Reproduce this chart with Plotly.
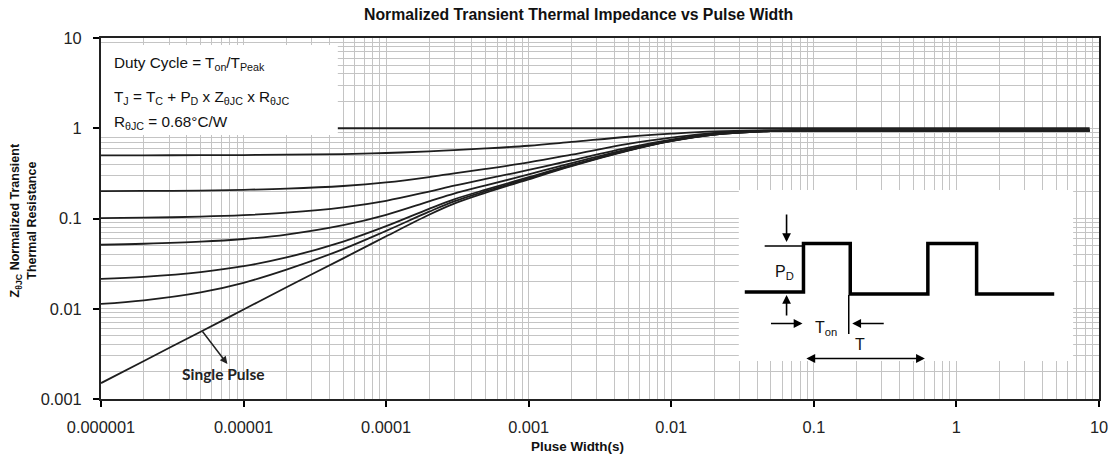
import plotly.graph_objects as go

# ---------------- data ----------------
pulse_width = [1e-6, 2e-6, 5e-6, 1e-5, 2e-5, 5e-5, 1e-4, 2e-4, 3e-4, 5e-4, 1e-3,
               2e-3, 5e-3, 1e-2, 2e-2, 5e-2, 1e-1, 1, 8.6]

z_single = [0.0015, 0.00264, 0.00557, 0.0098, 0.0173, 0.0362, 0.0635, 0.110, 0.146, 0.193,
            0.272, 0.38, 0.565, 0.72, 0.85, 0.93, 0.94, 0.94, 0.94]
z_d001 = [0.0113, 0.0124, 0.0152, 0.0194, 0.0271, 0.0458, 0.0729, 0.119, 0.155, 0.201,
          0.279, 0.386, 0.569, 0.723, 0.852, 0.931, 0.94, 0.94, 0.94]
z_d002 = [0.0214, 0.0226, 0.0255, 0.0296, 0.037, 0.0555, 0.0822, 0.128, 0.163, 0.209,
          0.287, 0.392, 0.574, 0.726, 0.853, 0.931, 0.941, 0.941, 0.941]
z_d005 = [0.0512, 0.0525, 0.0553, 0.0593, 0.0664, 0.0844, 0.110, 0.155, 0.189, 0.233,
          0.308, 0.411, 0.587, 0.734, 0.858, 0.934, 0.942, 0.942, 0.942]
z_d01 = [0.101, 0.102, 0.105, 0.109, 0.116, 0.133, 0.157, 0.199, 0.231, 0.274,
         0.345, 0.442, 0.609, 0.748, 0.865, 0.937, 0.944, 0.944, 0.944]
z_d02 = [0.201, 0.202, 0.204, 0.208, 0.214, 0.229, 0.251, 0.288, 0.317, 0.354,
         0.418, 0.51, 0.672, 0.786, 0.89, 0.944, 0.946, 0.946, 0.946]
z_d05 = [0.500, 0.501, 0.503, 0.505, 0.509, 0.518, 0.532, 0.555, 0.573, 0.597,
         0.64, 0.705, 0.805, 0.87, 0.925, 0.948, 0.948, 0.948, 0.948]
flat_x = [1e-6, 8.6]
z_d1 = [1.0, 1.0]

x_tickvals = [1e-6, 1e-5, 1e-4, 1e-3, 1e-2, 1e-1, 1, 10]
x_ticktext = ["0.000001", "0.00001", "0.0001", "0.001", "0.01", "0.1", "1", "10"]
y_tickvals = [0.001, 0.01, 0.1, 1, 10]
y_ticktext = ["0.001", "0.01", "0.1", "1", "10"]

# ---------------- layout geometry ----------------
W, H = 1120, 459
L, R, T, B = 101, 1104, 38, 399


def px(x):
    return (x - L) / (R - L)


def py(y):
    return (B - y) / (B - T)


LINE = "#1e1e1e"
GRID = "#c4c4c4"
FONT = "Liberation Sans, Arial, sans-serif"

fig = go.Figure()
series = [("D=1", flat_x, z_d1), ("D=0.5", pulse_width, z_d05), ("D=0.2", pulse_width, z_d02),
          ("D=0.1", pulse_width, z_d01), ("D=0.05", pulse_width, z_d005),
          ("D=0.02", pulse_width, z_d002), ("D=0.01", pulse_width, z_d001),
          ("Single Pulse", pulse_width, z_single)]
for name, xs, ys in series:
    fig.add_trace(go.Scatter(x=xs, y=ys, mode="lines", name=name,
                             line=dict(color=LINE, width=1.8, shape="spline", smoothing=1.0),
                             showlegend=False, hoverinfo="skip"))

shapes = []
annotations = []

# legend/info box (white) in top-left
shapes.append(dict(type="rect", xref="paper", yref="paper", x0=px(101), x1=px(339),
                   y0=py(135), y1=py(45), fillcolor="white", line=dict(width=0), layer="above"))
info_lines = [
    ("Duty Cycle = T<sub>on</sub>/T<sub>Peak</sub>", 63),
    ("T<sub>J</sub> = T<sub>C</sub> + P<sub>D</sub> x Z<sub>θJC</sub> x R<sub>θJC</sub>", 97),
    ("R<sub>θJC</sub> = 0.68°C/W", 122),
]
for txt, yy in info_lines:
    annotations.append(dict(text=txt, xref="paper", yref="paper", x=px(112), y=py(yy),
                            xanchor="left", yanchor="middle", showarrow=False,
                            font=dict(family=FONT, size=15.3, color="#111")))

# inset pulse diagram
shapes.append(dict(type="rect", xref="paper", yref="paper", x0=px(742), x1=px(1078),
                   y0=py(361), y1=py(190), fillcolor="white", line=dict(width=0), layer="above"))
wave_pts = [(748, 292), (807, 292), (807, 243.5), (854, 243.5), (854, 294), (932, 294),
            (932, 243.5), (981, 243.5), (981, 294), (1059, 294)]
path = "M " + " L ".join(f"{px(a):.5f},{py(b):.5f}" for a, b in wave_pts)
shapes.append(dict(type="path", xref="paper", yref="paper", path=path,
                   line=dict(color="black", width=3.5), layer="above"))
# thin reference lines
shapes.append(dict(type="line", xref="paper", yref="paper", x0=px(768), x1=px(807),
                   y0=py(246), y1=py(246), line=dict(color="black", width=1.5), layer="above"))
shapes.append(dict(type="line", xref="paper", yref="paper", x0=px(852.5), x1=px(852.5),
                   y0=py(295), y1=py(334), line=dict(color="black", width=1.5), layer="above"))


def arrow(x_head, y_head, x_tail, y_tail, both=False):
    return dict(text="", xref="paper", yref="paper", x=px(x_head), y=py(y_head),
                axref="pixel", ayref="pixel", ax=x_tail - x_head, ay=y_tail - y_head,
                showarrow=True, arrowhead=2, arrowsize=1.1, arrowwidth=1.6,
                arrowcolor="black", arrowside="end+start" if both else "end",
                startarrowhead=2, startarrowsize=1.1)


annotations += [
    arrow(790, 242, 790, 213),
    arrow(790, 295, 790, 317),
    arrow(806, 323.5, 773, 323.5),
    arrow(856, 323.5, 889, 323.5),
    arrow(929, 358.5, 809, 358.5, both=True),
]
inset_text = [("P<sub>D</sub>", 788, 272), ("T<sub>on</sub>", 830, 328), ("T", 864, 344)]
for txt, xx, yy in inset_text:
    annotations.append(dict(text=txt, xref="paper", yref="paper", x=px(xx), y=py(yy),
                            xanchor="center", yanchor="middle", showarrow=False,
                            font=dict(family=FONT, size=16, color="#111")))

# Single Pulse callout
annotations.append(dict(text="", xref="paper", yref="paper", x=px(228), y=py(364),
                        axref="pixel", ayref="pixel", ax=202 - 228, ay=330 - 364,
                        showarrow=True, arrowhead=2, arrowsize=1, arrowwidth=1.5,
                        arrowcolor="#222"))
annotations.append(dict(text="<b>Single Pulse</b>", xref="paper", yref="paper", x=px(224),
                        y=py(374), xanchor="center", yanchor="middle", showarrow=False,
                        font=dict(family="Lato, Carlito, sans-serif", size=15.5, color="#222")))

# titles
annotations.append(dict(text="<b>Normalized Transient Thermal Impedance vs Pulse Width</b>",
                        xref="paper", yref="paper", x=px(581), y=py(15), xanchor="center",
                        yanchor="middle", showarrow=False,
                        font=dict(family=FONT, size=15.8, color="#111")))
annotations.append(dict(text="<b>Pluse Width(s)</b>", xref="paper", yref="paper", x=px(580),
                        y=py(446), xanchor="center", yanchor="middle", showarrow=False,
                        font=dict(family=FONT, size=13.4, color="#111")))
annotations.append(dict(text="<b>Z<sub>θJC</sub> Normalized Transient<br>Thermal Resistance</b>",
                        xref="paper", yref="paper", x=px(23), y=py(220), xanchor="center",
                        yanchor="middle", showarrow=False, textangle=-90,
                        font=dict(family=FONT, size=12.5, color="#111")))

fig.update_layout(
    width=W, height=H,
    margin=dict(l=L, r=W - R, t=T, b=H - B, pad=0),
    paper_bgcolor="white", plot_bgcolor="white",
    shapes=shapes, annotations=annotations,
    showlegend=False,
)
fig.update_xaxes(type="log", range=[-6, 1], tickmode="array", tickvals=x_tickvals,
                 ticktext=x_ticktext, ticks="outside", ticklen=6, tickcolor="black",
                 tickwidth=1.5, showline=True, linecolor="#222", linewidth=2, mirror=True,
                 showgrid=True, gridcolor=GRID, gridwidth=1, zeroline=False,
                 tickfont=dict(family=FONT, size=16.4, color="#222"), ticklabelstandoff=6,
                 minor=dict(dtick="D1", showgrid=True, gridcolor=GRID, gridwidth=1, ticks=""))
fig.update_yaxes(type="log", range=[-3, 1], tickmode="array", tickvals=y_tickvals,
                 ticktext=y_ticktext, ticks="outside", ticklen=6, tickcolor="black",
                 tickwidth=1.5, showline=True, linecolor="#222", linewidth=2, mirror=True,
                 showgrid=True, gridcolor=GRID, gridwidth=1, zeroline=False,
                 tickfont=dict(family=FONT, size=16.4, color="#222"), ticklabelstandoff=8,
                 minor=dict(dtick="D1", showgrid=True, gridcolor=GRID, gridwidth=1, ticks=""))

fig.write_html("out.html")
